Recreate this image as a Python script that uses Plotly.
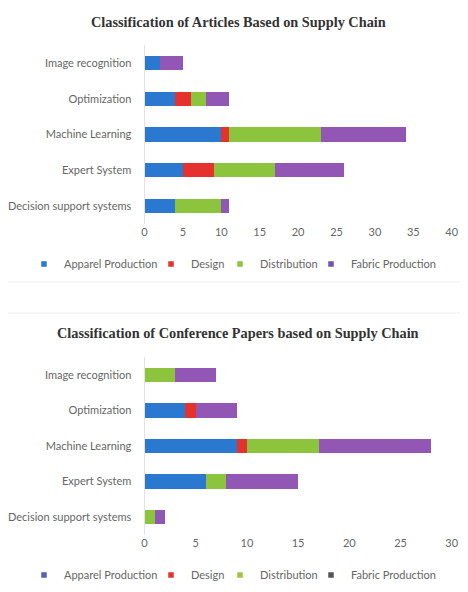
import plotly.graph_objects as go

categories = ["Decision support systems", "Expert System", "Machine Learning", "Optimization", "Image recognition"]
series_names = ["Apparel Production", "Design", "Distribution", "Fabric Production"]
bar_colors = ["#2a78cf", "#e5322d", "#8cc43e", "#9257b5"]
legend_colors_top = ["#2a78cf", "#e5322d", "#8cc43e", "#7055a8"]
legend_colors_bottom = ["#5565b5", "#e5322d", "#9cc43e", "#555555"]

# Articles (top chart), order matches categories
art_apparel = [4, 5, 10, 4, 2]
art_design = [0, 4, 1, 2, 0]
art_distribution = [6, 8, 12, 2, 0]
art_fabric = [1, 9, 11, 3, 3]

# Conference papers (bottom chart)
conf_apparel = [0, 6, 9, 4, 0]
conf_design = [0, 0, 1, 1, 0]
conf_distribution = [1, 2, 7, 0, 3]
conf_fabric = [1, 7, 11, 4, 4]

title_top = "Classification of Articles Based on Supply Chain"
title_bottom = "Classification of Conference Papers based on Supply Chain"
ticks_top = [0, 5, 10, 15, 20, 25, 30, 35, 40]
ticks_bottom = [0, 5, 10, 15, 20, 25, 30]

W, H = 452.0, 576.0   # page adds 8px body margin on each side
OFF = 8.0
def px_x(x):
    return (x - OFF) / W
def px_y(y):
    return 1 - (y - OFF) / H

fig = go.Figure()
top_data = [art_apparel, art_design, art_distribution, art_fabric]
bot_data = [conf_apparel, conf_design, conf_distribution, conf_fabric]
for name, col, vals in zip(series_names, bar_colors, top_data):
    fig.add_trace(go.Bar(y=categories, x=vals, name=name, orientation="h",
                         marker=dict(color=col, line=dict(width=0)),
                         xaxis="x", yaxis="y", showlegend=False))
for name, col, vals in zip(series_names, bar_colors, bot_data):
    fig.add_trace(go.Bar(y=categories, x=vals, name=name, orientation="h",
                         marker=dict(color=col, line=dict(width=0)),
                         xaxis="x2", yaxis="y2", showlegend=False))

font_ax = dict(family="Lato, Liberation Sans, sans-serif", size=11, color="#666666")
font_title = dict(family="Liberation Serif, Times New Roman, serif", size=14.3, color="#333333")

# one legend per entry so each key sits where the reference has it
legend_text_top = [64, 191, 260, 351]      # page px of entry text start
legend_text_bottom = [64, 191, 260, 351]
legends = {}
k = 1
for i, name in enumerate(series_names):
    lname = "legend" if k == 1 else "legend%d" % k
    fig.add_trace(go.Scatter(x=[None], y=[None], mode="markers", name=name,
                             marker=dict(symbol="square", size=5.5, color=legend_colors_top[i]),
                             xaxis="x", yaxis="y", legend=lname, showlegend=True))
    legends[lname] = dict(orientation="h", x=px_x(legend_text_top[i] - 40), xanchor="left",
                          y=px_y(264), yanchor="middle", font=font_ax, itemwidth=30,
                          bgcolor="rgba(0,0,0,0)", borderwidth=0)
    k += 1
for i, name in enumerate(series_names):
    lname = "legend%d" % k
    fig.add_trace(go.Scatter(x=[None], y=[None], mode="markers", name=name,
                             marker=dict(symbol="square", size=5.5, color=legend_colors_bottom[i]),
                             xaxis="x2", yaxis="y2", legend=lname, showlegend=True))
    legends[lname] = dict(orientation="h", x=px_x(legend_text_bottom[i] - 40), xanchor="left",
                          y=px_y(575), yanchor="middle", font=font_ax, itemwidth=30,
                          bgcolor="rgba(0,0,0,0)", borderwidth=0)
    k += 1

x0, x1 = px_x(144.5), px_x(451.7)

common_x = dict(showgrid=False, zeroline=False, showline=False, ticks="",
                tickfont=font_ax, fixedrange=True, automargin=False)
common_y = dict(showgrid=False, zeroline=False, showline=True, linecolor="#e3e3e3",
                linewidth=1, ticks="", tickfont=font_ax, ticklabelstandoff=10,
                fixedrange=True, automargin=False)

fig.update_layout(
    width=int(W), height=int(H),
    margin=dict(l=0, r=0, t=0, b=0, autoexpand=False),
    paper_bgcolor="white", plot_bgcolor="white",
    barmode="stack", bargap=0.6,
    showlegend=True,
    xaxis=dict(domain=[x0, x1], range=[0, 40], tickvals=ticks_top, anchor="y", **common_x),
    yaxis=dict(domain=[px_y(224), px_y(45)], anchor="x", **common_y),
    xaxis2=dict(domain=[x0, x1], range=[0, 30], tickvals=ticks_bottom, anchor="y2", **common_x),
    yaxis2=dict(domain=[px_y(535), px_y(357)], anchor="x2", **common_y),
    annotations=[
        dict(text="<b>" + title_top + "</b>", x=px_x(238), y=px_y(22), xref="paper", yref="paper",
             xanchor="center", yanchor="middle", showarrow=False, font=font_title),
        dict(text="<b>" + title_bottom + "</b>", x=px_x(237.5), y=px_y(333), xref="paper", yref="paper",
             xanchor="center", yanchor="middle", showarrow=False, font=font_title),
    ],
    shapes=[
        dict(type="line", xref="paper", yref="paper", x0=0, x1=1, y0=px_y(282), y1=px_y(282),
             line=dict(color="#eeeeee", width=1)),
        dict(type="line", xref="paper", yref="paper", x0=0, x1=1, y0=px_y(313), y1=px_y(313),
             line=dict(color="#eeeeee", width=1)),
    ],
    **legends,
)

fig.write_html("out.html")
